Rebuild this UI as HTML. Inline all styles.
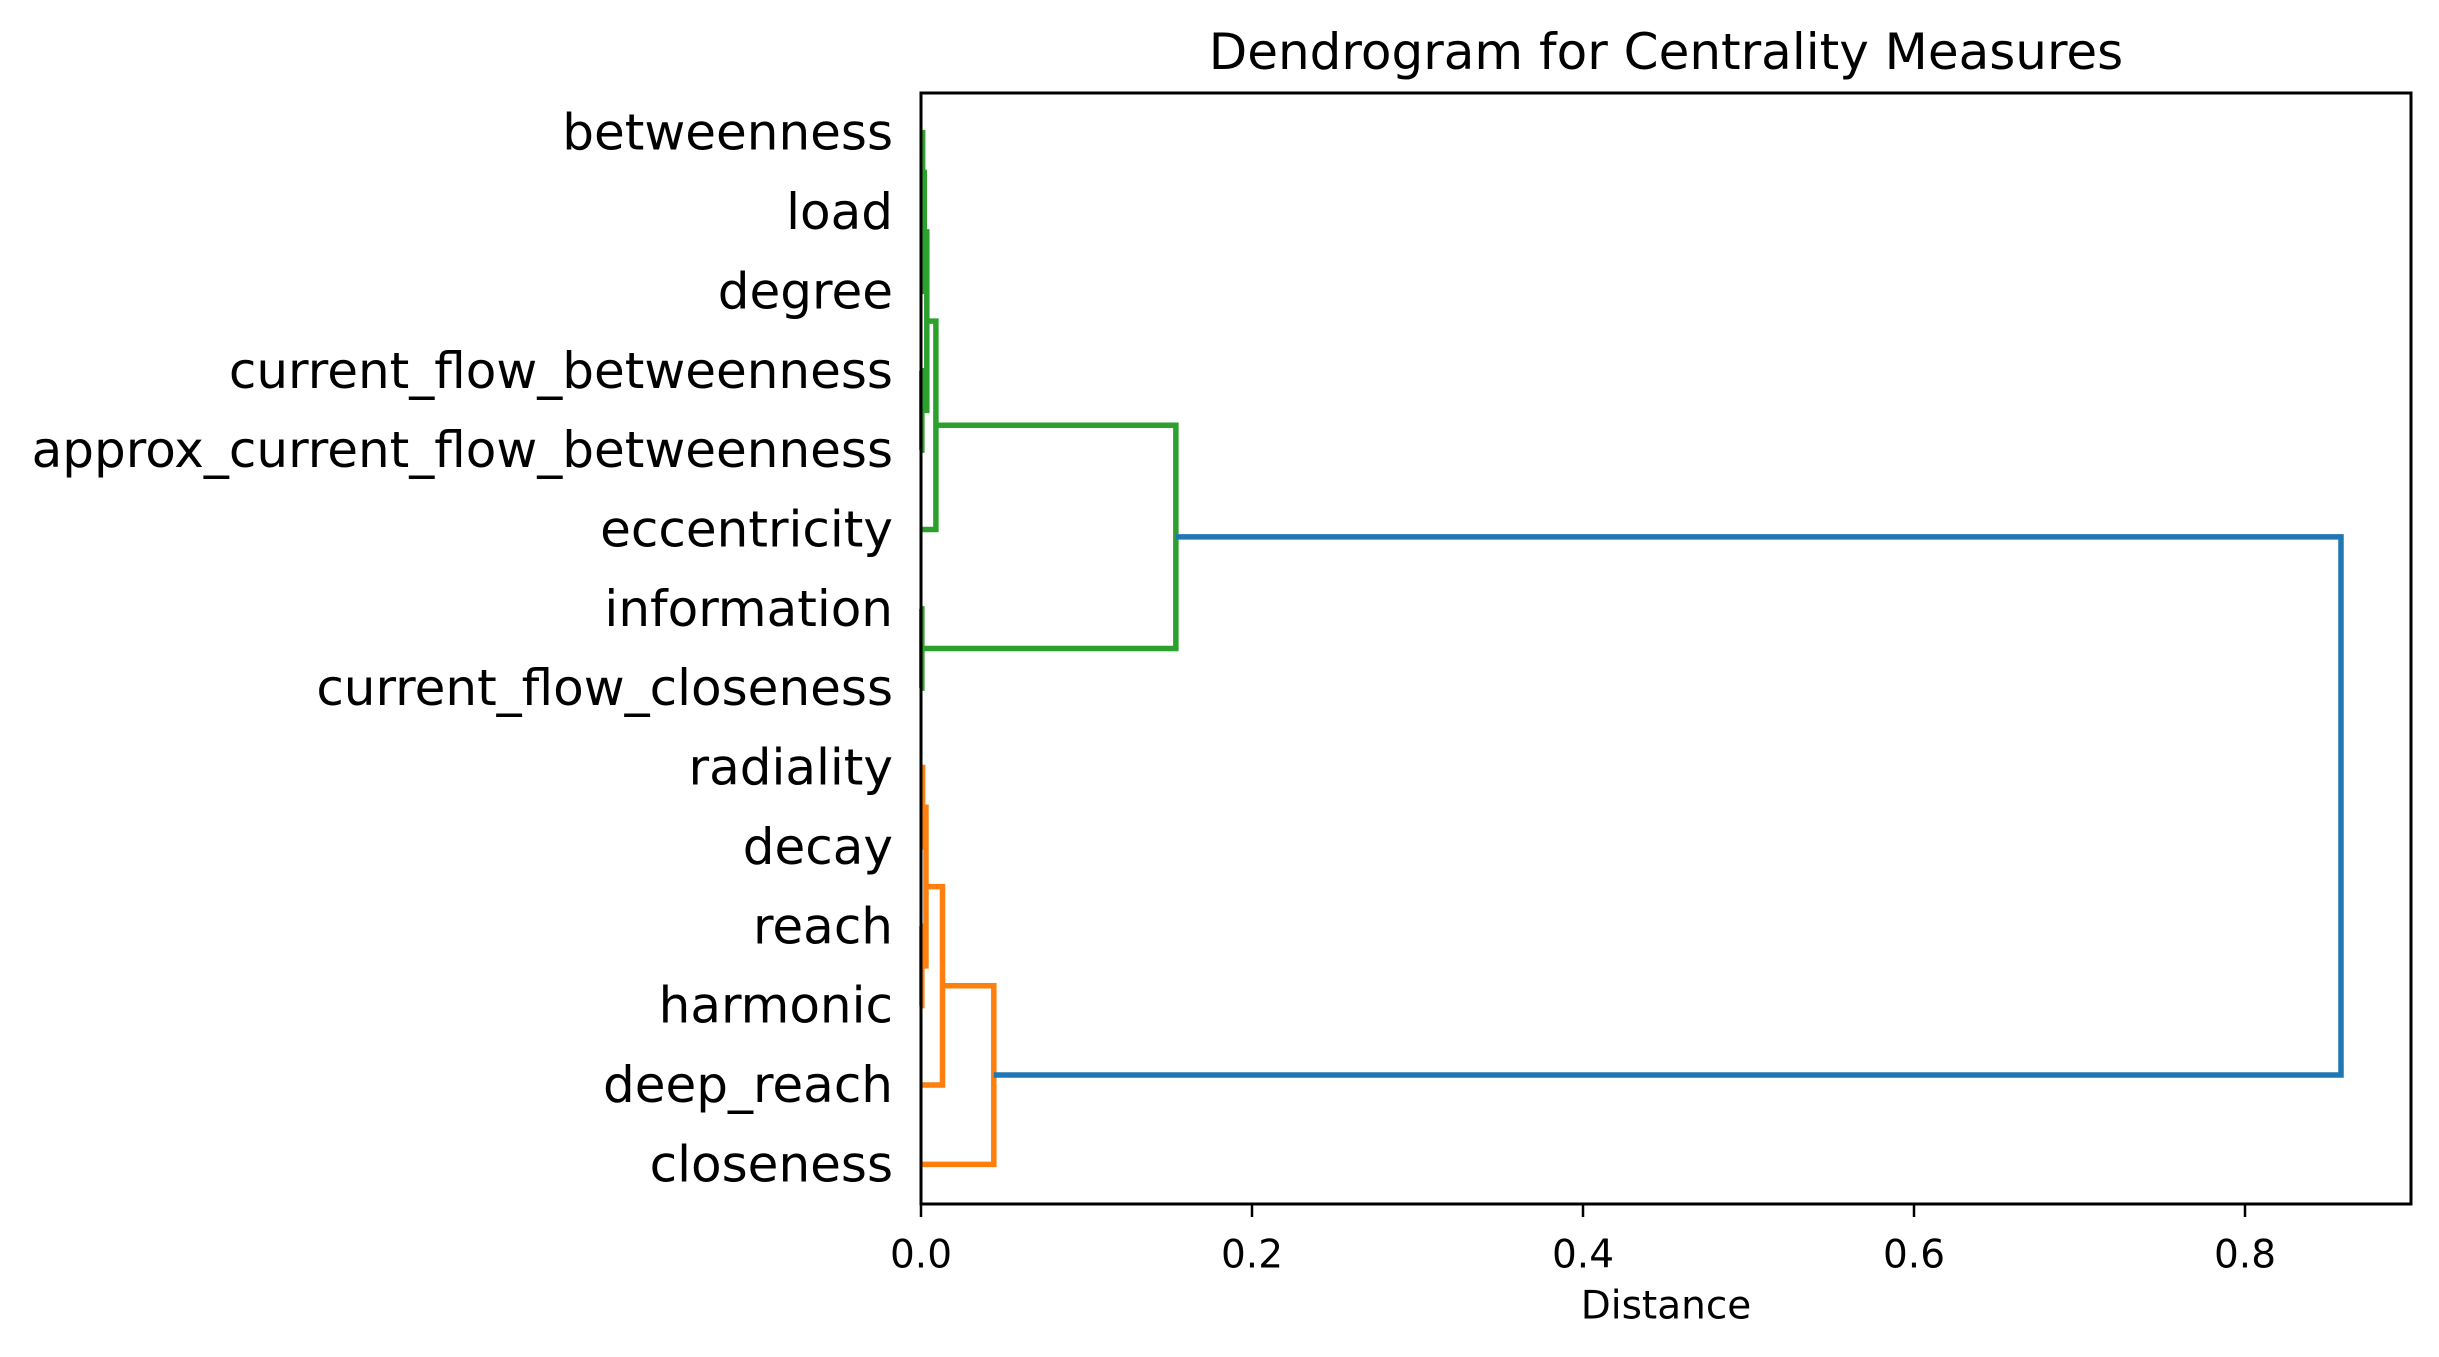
<!DOCTYPE html>
<html><head><meta charset="utf-8"><style>
html,body{margin:0;padding:0;background:#fff;}
svg{display:block;font-family:"DejaVu Sans","Liberation Sans",sans-serif;}
</style></head><body>
<svg id="chart" width="2439" height="1357" viewBox="0 0 2439 1357" xmlns="http://www.w3.org/2000/svg">
<rect width="2439" height="1357" fill="#fff"/>
<text x="1666" y="52" font-size="50" text-anchor="middle" dominant-baseline="central">Dendrogram for Centrality Measures</text>
<text x="1666" y="1306" font-size="39" text-anchor="middle" dominant-baseline="central">Distance</text>
<g id="links"></g>
<g id="ticks"></g>
<rect x="921" y="93" width="1490" height="1111" fill="none" stroke="#000" stroke-width="3"/>
</svg>
<script>
const leaves = ["closeness","deep_reach","harmonic","reach","decay","radiality","current_flow_closeness","information","eccentricity","approx_current_flow_betweenness","current_flow_betweenness","degree","load","betweenness"];
// each link: [posA, posB, heightA, heightB, mergeHeight]
const linkVals = [
 [135,125,0,0,0.001],[105,95,0,0,0.0005],[130,115,0.001,0,0.002],[122.5,100,0.002,0.0005,0.0035],
 [111.25,85,0.0035,0,0.009],[75,65,0,0,0.0005],[98.125,70,0.009,0.0005,0.154],
 [55,45,0,0,0.001],[35,25,0,0,0.0005],[50,30,0.001,0.0005,0.003],[40,15,0.003,0,0.013],
 [27.5,5,0.013,0,0.044],[84.06,16.25,0.154,0.044,0.858]];
const linkColors = ["#2ca02c","#2ca02c","#2ca02c","#2ca02c","#2ca02c","#2ca02c","#2ca02c","#ff7f0e","#ff7f0e","#ff7f0e","#ff7f0e","#ff7f0e","#1f77b4"];
const xTicks = [0,0.2,0.4,0.6,0.8];
const xTickLabels = ["0.0","0.2","0.4","0.6","0.8"];
const X0=921,X1=2411,Y0=93,Y1=1204,XMAX=0.9003,YMAX=140;
const xs=v=>X0+v/XMAX*(X1-X0);
const ys=v=>Y1-v/YMAX*(Y1-Y0);
const NS="http://www.w3.org/2000/svg";
const gl=document.getElementById('links'), gt=document.getElementById('ticks');
linkVals.forEach((l,i)=>{
  const [ya,yb,ha,hb,h]=l;
  const p=document.createElementNS(NS,'path');
  p.setAttribute('d',`M${xs(ha)},${ys(ya)}H${xs(h)}V${ys(yb)}H${xs(hb)}`);
  p.setAttribute('fill','none');p.setAttribute('stroke',linkColors[i]);p.setAttribute('stroke-width','5.5');
  
  
  gl.appendChild(p);
});
leaves.forEach((name,i)=>{
  const t=document.createElementNS(NS,'text');
  t.setAttribute('x',893);t.setAttribute('y',ys(5+10*i));
  t.setAttribute('font-size','50');t.setAttribute('text-anchor','end');t.setAttribute('dominant-baseline','central');
  t.textContent=name;
  
  
  gt.appendChild(t);
});
xTicks.forEach((v,i)=>{
  const l=document.createElementNS(NS,'line');
  l.setAttribute('x1',xs(v));l.setAttribute('x2',xs(v));l.setAttribute('y1',Y1);l.setAttribute('y2',Y1+13);
  l.setAttribute('stroke','#000');l.setAttribute('stroke-width','2.5');
  
  
  gt.appendChild(l);
  const t=document.createElementNS(NS,'text');
  t.setAttribute('x',xs(v));t.setAttribute('y',1255);
  t.setAttribute('font-size','39');t.setAttribute('text-anchor','middle');t.setAttribute('dominant-baseline','central');
  t.textContent=xTickLabels[i];
  
  
  gt.appendChild(t);
});
</script>
</body></html>
